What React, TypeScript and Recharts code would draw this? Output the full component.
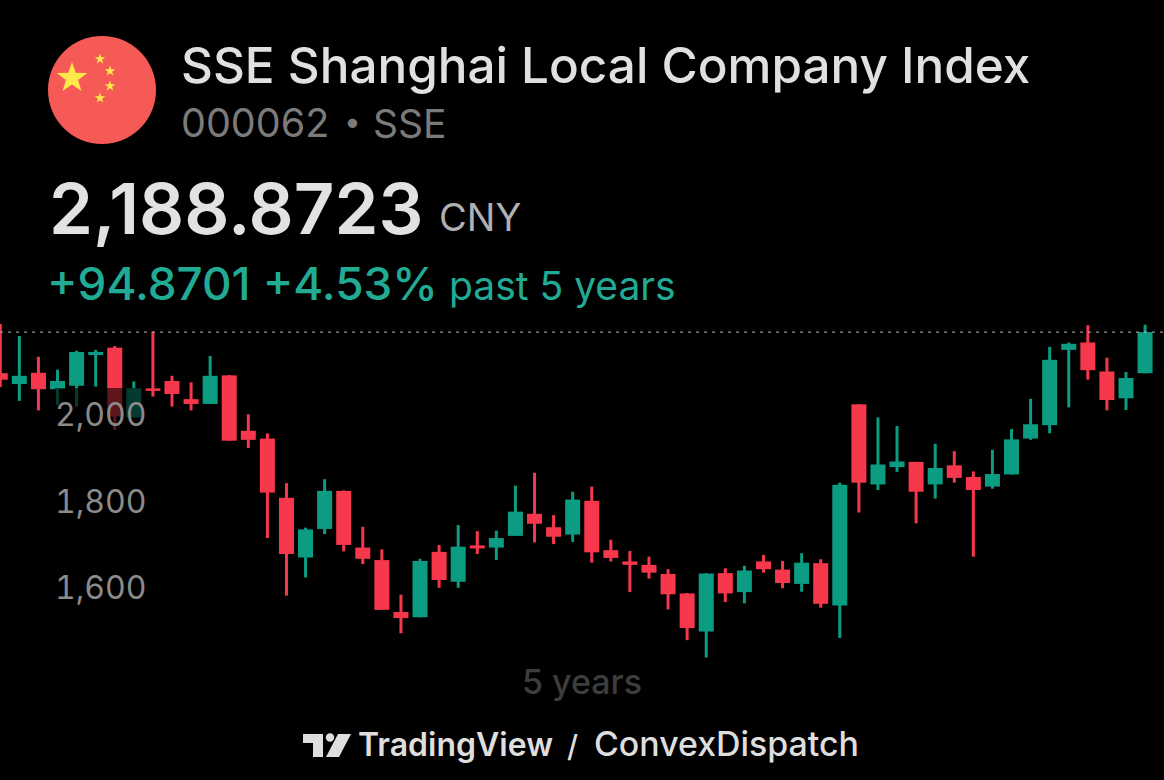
import { Bar, BarChart, ReferenceArea, ReferenceLine, XAxis, YAxis } from "recharts";

const opens = [2094, 2069, 2095, 2057, 2065, 2136, 2153, 1992, 2059, 2076, 2034, 2023, 2089, 1961, 1943, 1806, 1668, 1734, 1822, 1691, 1662, 1542, 1530, 1681, 1612, 1696, 1691, 1718, 1769, 1738, 1721, 1799, 1685, 1659, 1651, 1630, 1585, 1497, 1632, 1588, 1659, 1640, 1607, 1655, 1557, 2022, 1837, 1877, 1889, 1837, 1881, 1854, 1832, 1860, 1943, 1974, 2148, 2165, 2098, 2036, 2094];
const highs = [2208, 2180, 2132, 2102, 2146, 2148, 2157, 2075, 2190, 2088, 2073, 2134, 2090, 1999, 1955, 1840, 1737, 1849, 1823, 1739, 1687, 1582, 1665, 1697, 1743, 1729, 1730, 1834, 1864, 1766, 1820, 1832, 1709, 1683, 1670, 1641, 1586, 1632, 1643, 1649, 1674, 1660, 1678, 1664, 1841, 2022, 1992, 1972, 1889, 1931, 1914, 1867, 1917, 1965, 2035, 2155, 2165, 2205, 2130, 2097, 2206];
const lows = [2062, 2030, 2008, 2021, 2017, 2063, 1963, 1991, 2040, 2017, 2008, 2023, 1938, 1921, 1713, 1580, 1622, 1722, 1682, 1653, 1547, 1493, 1530, 1598, 1598, 1676, 1662, 1718, 1703, 1699, 1704, 1656, 1659, 1588, 1619, 1548, 1477, 1437, 1565, 1562, 1633, 1597, 1589, 1552, 1482, 1772, 1824, 1866, 1747, 1804, 1841, 1670, 1827, 1860, 1940, 1955, 2015, 2079, 2008, 2009, 2094];
const closes = [2079, 2088, 2057, 2076, 2143, 2143, 1994, 2059, 2053, 2046, 2023, 2088, 1938, 1940, 1818, 1676, 1733, 1822, 1697, 1665, 1547, 1528, 1660, 1616, 1693, 1689, 1713, 1774, 1746, 1716, 1802, 1680, 1667, 1651, 1633, 1583, 1505, 1631, 1585, 1638, 1641, 1609, 1656, 1561, 1836, 1841, 1883, 1890, 1820, 1875, 1852, 1824, 1861, 1941, 1976, 2125, 2162, 2101, 2032, 2083, 2189];
const yTicks = [1600, 1800, 2000];
const lastPrice = 2189;

const UP = "#0b9c82";
const DOWN = "#f7374b";
const FONT = "Inter, sans-serif";

const candles = opens.map((open, i) => ({
  i,
  open,
  high: highs[i],
  low: lows[i],
  close: closes[i],
}));

function Candle(props: any) {
  const { x, y, width, height, payload } = props;
  const h = Math.abs(height);
  const top = height < 0 ? y + height : y;
  // px per index point, taken from the bar the axis already scaled
  const k = h / (payload.high - payload.low);
  const bodyTop = top + (payload.high - Math.max(payload.open, payload.close)) * k;
  const bodyH = Math.abs(payload.open - payload.close) * k;
  const color = payload.close >= payload.open ? UP : DOWN;
  return (
    <g>
      <rect x={x + width / 2 - 1.5} y={top} width={3} height={h} fill={color} />
      <rect x={x} y={bodyTop} width={width} height={bodyH} fill={color} />
    </g>
  );
}

function PriceTick(props: any) {
  return (
    <text
      x={146.5}
      y={props.y}
      dy={12.5}
      textAnchor="end"
      fontFamily={FONT}
      fontSize={32}
      fill="#8b8b8b"
      style={{ fontVariantNumeric: "tabular-nums" }}
    >
      {Number(props.payload.value).toLocaleString("en-US")}
    </text>
  );
}

function Flag() {
  const star = (cx: number, cy: number, r: number) => {
    const pts: string[] = [];
    for (let k = 0; k < 10; k++) {
      const rad = k % 2 === 0 ? r : r * 0.4;
      const a = -Math.PI / 2 + (k * Math.PI) / 5;
      pts.push(`${cx + rad * Math.cos(a)},${cy + rad * Math.sin(a)}`);
    }
    return <polygon points={pts.join(" ")} fill="#ffe84a" />;
  };
  return (
    <svg width={110} height={110} style={{ position: "absolute", left: 47, top: 35 }}>
      <circle cx={55} cy={55} r={54} fill="#f55a56" />
      {star(25, 43, 16)}
      {star(53, 24, 5.5)}
      {star(63, 36, 5.5)}
      {star(63, 51, 5.5)}
      {star(53, 63, 5.5)}
    </svg>
  );
}

function Label(props: any) {
  const { x, y, size, color, weight, children } = props;
  return (
    <div
      style={{
        position: "absolute",
        left: x,
        top: y,
        fontSize: size,
        color,
        fontWeight: weight || 400,
        lineHeight: 1,
        whiteSpace: "nowrap",
        fontFamily: FONT,
      }}
    >
      {children}
    </div>
  );
}

export default function App() {
  return (
    <div
      style={{
        position: "absolute",
        left: 0,
        top: 0,
        width: 1164,
        height: 780,
        background: "#000",
        overflow: "hidden",
      }}
    >
      <Flag />
      <Label x={181} y={41} size={49.4} color="#e0e0e0" weight={500}>
        SSE Shanghai Local Company Index
      </Label>
      <Label x={181} y={104} size={39.5} color="#7b7b7b">
        000062
      </Label>
      <Label x={344} y={106} size={30} color="#7b7b7b">
        •
      </Label>
      <Label x={373} y={104} size={39} color="#7b7b7b">
        SSE
      </Label>
      <Label x={49} y={174} size={70.6} color="#e2e2e2" weight={600}>
        2,188.8723
      </Label>
      <Label x={439} y={198} size={38} color="#b0b0b0">
        CNY
      </Label>
      <Label x={47} y={261} size={45.8} color="#22ab94" weight={500}>
        +94.8701 +4.53%
      </Label>
      <Label x={449} y={266} size={39} color="#22ab94">
        past 5 years
      </Label>

      <div style={{ position: "absolute", left: 0, top: 320 }}>
        <BarChart
          width={1164}
          height={350}
          data={candles}
          margin={{ top: 0, right: 0, bottom: 0, left: 0 }}
        >
          <XAxis dataKey="i" type="number" domain={[-0.016, 60.99]} hide allowDataOverflow />
          <ReferenceLine
            y={lastPrice}
            stroke="#b5b5b5"
            strokeWidth={1}
            strokeDasharray="3 5"
          />
          <Bar
            dataKey={(d: any) => [d.low, d.high]}
            barSize={15}
            shape={Candle}
            isAnimationActive={false}
          />
          <ReferenceArea
            x1={2.87}
            x2={7.63}
            y1={1940}
            y2={2060}
            fill="#000"
            fillOpacity={0.62}
            stroke="none"
            zIndex={350}
          />
          <YAxis
            type="number"
            domain={[1408, 2217]}
            ticks={yTicks}
            mirror
            width={60}
            axisLine={false}
            tickLine={false}
            tick={PriceTick}
            allowDataOverflow
          />
        </BarChart>
      </div>

      <Label x={522} y={665} size={34} color="#3d3d3d" weight={500}>
        5 years
      </Label>

      <svg width={60} height={30} style={{ position: "absolute", left: 300, top: 730 }}>
        <path d="M3 4H23V27H13V13H3Z" fill="#dedede" />
        <circle cx={30} cy={7.5} r={4.2} fill="#dedede" />
        <path d="M38 4H51L39 27H26Z" fill="#dedede" />
      </svg>
      <Label x={358} y={729} size={32} color="#dedede" weight={600}>
        TradingView
      </Label>
      <Label x={567} y={731} size={30} color="#dedede" weight={500}>
        /
      </Label>
      <Label x={594} y={727} size={33.9} color="#dedede" weight={500}>
        ConvexDispatch
      </Label>
    </div>
  );
}
